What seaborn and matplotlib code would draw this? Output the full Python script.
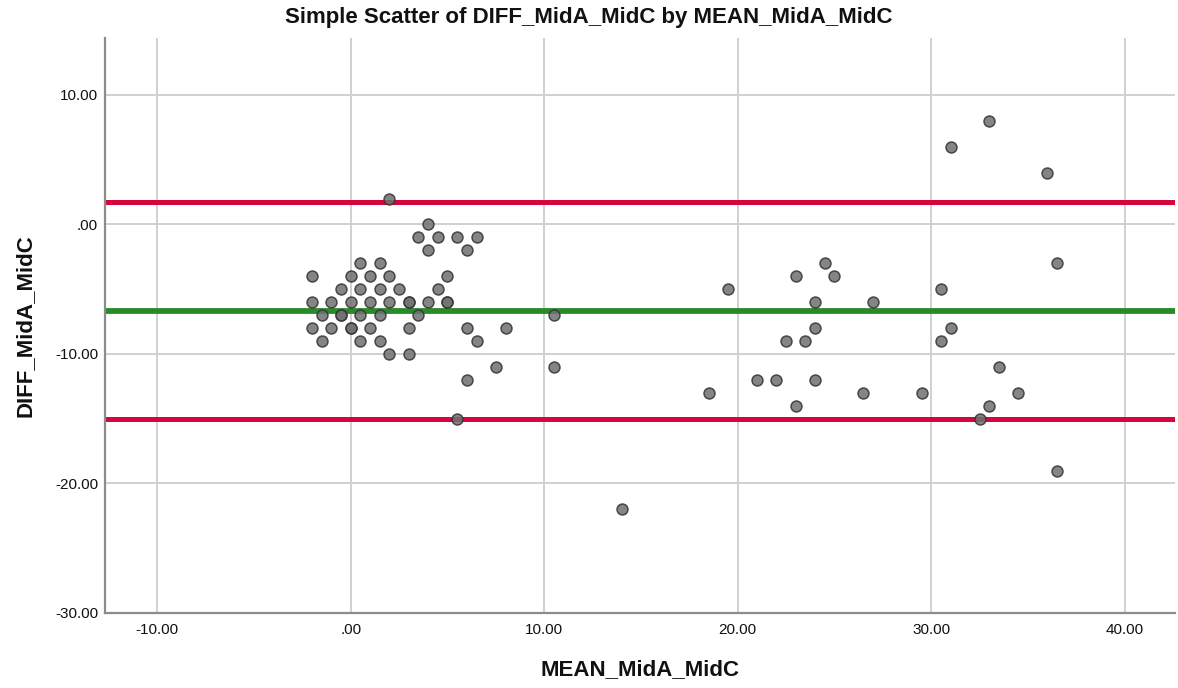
import matplotlib
matplotlib.use("Agg")
import matplotlib.pyplot as plt
import seaborn as sns
import pandas as pd
from matplotlib.ticker import FuncFormatter, MultipleLocator

# Data
mean_vals = [2, 4, 3.5, 4.5, 5.5, 6.5, 4, 6, 0.5, 1.5,
             -2, 0, 1, 2, 5, -0.5, 0.5, 1.5, 2.5, 4.5,
             -2, -1, 0, 1, 2, 3, 3, 4, 5, 5,
             -1.5, -0.5, -0.5, 0.5, 1.5, 3.5, 10.5,
             -2, -1, 0, 0, 1, 3, 6, 8,
             -1.5, 0.5, 1.5, 6.5, 2, 3, 7.5, 10.5, 6, 5.5,
             14,
             19.5, 24.5, 23, 25, 24, 27, 24, 22.5, 23.5, 21, 22, 24,
             18.5, 26.5, 29.5, 23,
             33, 31, 36, 36.5, 30.5, 31, 30.5, 33.5, 34.5, 33, 32.5, 36.5]
diff_vals = [2, 0, -1, -1, -1, -1, -2, -2, -3, -3,
             -4, -4, -4, -4, -4, -5, -5, -5, -5, -5,
             -6, -6, -6, -6, -6, -6, -6, -6, -6, -6,
             -7, -7, -7, -7, -7, -7, -7,
             -8, -8, -8, -8, -8, -8, -8, -8,
             -9, -9, -9, -9, -10, -10, -11, -11, -12, -15,
             -22,
             -5, -3, -4, -4, -6, -6, -8, -9, -9, -12, -12, -12,
             -13, -13, -13, -14,
             8, 6, 4, -3, -5, -8, -9, -11, -13, -14, -15, -19]

mean_diff = -6.66
upper_loa = 1.72
lower_loa = -15.03

title = "Simple Scatter of DIFF_MidA_MidC by MEAN_MidA_MidC"
xlabel = "MEAN_MidA_MidC"
ylabel = "DIFF_MidA_MidC"

df = pd.DataFrame({"MEAN_MidA_MidC": mean_vals, "DIFF_MidA_MidC": diff_vals})

sns.set_theme(style="white")
plt.rcParams['font.family'] = ['Liberation Sans', 'DejaVu Sans']

fig = plt.figure(figsize=(11.78, 6.88), dpi=100)
ax = fig.add_axes([105/1178, 1 - 613/688, (1175-105)/1178, (613-38)/688])

ax.set_xlim(-12.7, 42.6)
ax.set_ylim(-30, 14.4)
ax.xaxis.set_major_locator(MultipleLocator(10))
ax.yaxis.set_major_locator(MultipleLocator(10))

def fmt(v, pos):
    s = f"{v:.2f}"
    if s in ("0.00", "-0.00"):
        return ".00"
    return s

ax.xaxis.set_major_formatter(FuncFormatter(fmt))
ax.yaxis.set_major_formatter(FuncFormatter(fmt))

ax.grid(True, color="#d0d0d0", linewidth=1.4)
ax.set_axisbelow(True)

ax.axhline(upper_loa, color="#d6063d", linewidth=3.6, zorder=2)
ax.axhline(lower_loa, color="#d6063d", linewidth=3.6, zorder=2)
ax.axhline(mean_diff, color="#2a8a2a", linewidth=4.2, zorder=2)

sns.scatterplot(data=df, x="MEAN_MidA_MidC", y="DIFF_MidA_MidC", ax=ax,
                s=62, color="#707070", edgecolor="#333333", linewidth=1.1,
                alpha=0.85, zorder=3)

for sp in ("top", "right"):
    ax.spines[sp].set_visible(False)
for sp in ("left", "bottom"):
    ax.spines[sp].set_color("#8c8c8c")
    ax.spines[sp].set_linewidth(1.6)

ax.tick_params(axis="x", length=0, labelsize=11, colors="#111111", pad=7)
ax.tick_params(axis="y", length=0, labelsize=11, colors="#111111", pad=5)
fig.suptitle(title, x=0.5, y=1 - 18/688, va="center", fontsize=16,
             fontweight="bold", color="#111111")
ax.set_xlabel(xlabel, fontsize=16, fontweight="bold", labelpad=16, color="#111111")
ax.set_ylabel(ylabel, fontsize=16, fontweight="bold", labelpad=14, color="#111111")

fig.savefig("out.png", dpi=100)
